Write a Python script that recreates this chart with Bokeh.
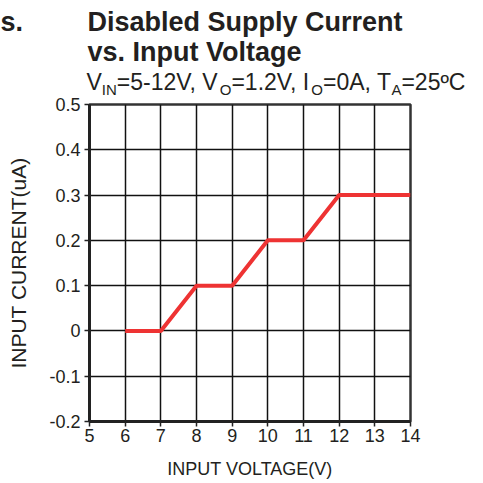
from bokeh.plotting import figure
from bokeh.layouts import column
from bokeh.models import Range1d, FixedTicker
from bokeh.core.properties import value
from bokeh.embed import file_html
from bokeh.resources import INLINE

# ---- data ----
input_voltage = [6, 7, 8, 9, 10, 11, 12, 13, 14]
input_current = [0, 0, 0.1, 0.1, 0.2, 0.2, 0.3, 0.3, 0.3]
x_ticks = [5, 6, 7, 8, 9, 10, 11, 12, 13, 14]
y_ticks = [-0.2, -0.1, 0, 0.1, 0.2, 0.3, 0.4, 0.5]
y_tick_labels = ["-0.2", "-0.1", "0", "0.1", "0.2", "0.3", "0.4", "0.5"]
title_lines = ["Disabled Supply Current", "vs. Input Voltage"]
clipped_prefix = "s."
subtitle_parts = [("V", False), ("IN", True), ("=5-12V, V", False), ("O", True),
                  ("=1.2V, I", False), ("O", True), ("=0A, T", False), ("A", True),
                  ("=25ºC", False)]
x_label = "INPUT VOLTAGE(V)"
y_label = "INPUT CURRENT(uA)"

FONT = "Liberation Sans"
TXT = "#231F20"
W = 483
H1 = 96            # header height
H2 = 387           # plot figure height
X0, X1, Y0, Y1 = 5, 14, -0.2, 0.5
# frame edges in window pixels
FL, FR, FT, FB = 89, 410, 104, 421

# ---------------- header with titles ----------------
hdr = figure(width=W, height=H1, output_backend="svg", toolbar_location=None,
             title=None,
             x_range=Range1d(0, W), y_range=Range1d(H1, 0),
             x_axis_type=None, y_axis_type=None,
             min_border=0, min_border_left=0, min_border_right=0,
             min_border_top=0, min_border_bottom=0)
hdr.outline_line_color = None
hdr.grid.visible = False
hdr.background_fill_color = "white"
hdr.border_fill_color = "white"

title_x = [0, 87, 87]
title_y = [21.5, 21.5, 51.5]
hdr.text(x=title_x, y=title_y, text=[clipped_prefix] + title_lines,
         text_font=value(FONT), text_font_style="bold", text_font_size="27px",
         text_color=TXT, text_baseline="alphabetic", text_align="left")

# Arial / Liberation Sans advance widths (per 1000 em)
AW = {"V": 667, "I": 278, "N": 722, "=": 584, "5": 556, "-": 333, "1": 556, "2": 556,
      ",": 278, " ": 278, "O": 778, ".": 278, "0": 556, "A": 667, "T": 611,
      "º": 365, "C": 722}
MAIN, SUB = 23, 15
cx = 86.0
main_x, main_t, sub_x, sub_t = [], [], [], []
for txt, is_sub in subtitle_parts:
    size = SUB if is_sub else MAIN
    if is_sub:
        sub_x.append(cx); sub_t.append(txt)
    else:
        main_x.append(cx); main_t.append(txt)
    cx += sum(AW.get(ch, 556) for ch in txt) * size / 1000.0
hdr.text(x=main_x, y=[81.5] * len(main_x), text=main_t, text_font=value(FONT),
         text_font_size=f"{MAIN}px", text_color=TXT, text_baseline="alphabetic")
hdr.text(x=sub_x, y=[88.5] * len(sub_x), text=sub_t, text_font=value(FONT),
         text_font_size=f"{SUB}px", text_color=TXT, text_baseline="alphabetic")

# ---------------- main plot ----------------
p = figure(width=W, height=H2, output_backend="svg", toolbar_location=None,
           title=None,
           x_range=Range1d(X0, X1), y_range=Range1d(Y0, Y1),
           min_border_left=FL, min_border_right=W - FR,
           min_border_top=FT - H1, min_border_bottom=H1 + H2 - FB)
p.background_fill_color = "white"
p.border_fill_color = "white"
p.outline_line_color = "#333333"
p.outline_line_width = 2.5

# keep the header's frame independent of the plot's frame
for fig in (hdr, p):
    if "frame_align" in fig.properties():
        fig.frame_align = False

for ax in (p.xaxis[0], p.yaxis[0]):
    ax.axis_line_width = 3
    ax.axis_line_color = "#222222"
    ax.major_tick_line_color = "#222222"
    ax.major_tick_line_width = 1.5
    ax.major_tick_out = 5
    ax.major_tick_in = 0
    ax.minor_tick_line_color = None
    ax.major_label_text_font = FONT
    ax.major_label_text_font_size = "18px"
    ax.major_label_text_color = TXT
    ax.axis_label_text_font = FONT
    ax.axis_label_text_font_style = "normal"
    ax.axis_label_text_color = TXT

p.xaxis.ticker = FixedTicker(ticks=x_ticks)
p.yaxis.ticker = FixedTicker(ticks=y_ticks)
p.yaxis.major_label_overrides = {t: l for t, l in zip(y_ticks, y_tick_labels)}
p.xaxis.major_label_standoff = 2
p.yaxis.major_label_standoff = 4
p.xaxis.axis_label = x_label
p.yaxis.axis_label = y_label
p.xaxis.axis_label_text_font_size = "18px"
p.yaxis.axis_label_text_font_size = "21px"
p.xaxis.axis_label_standoff = 14
p.yaxis.axis_label_standoff = 16

p.xgrid.ticker = FixedTicker(ticks=x_ticks)
p.ygrid.ticker = FixedTicker(ticks=y_ticks)
for g in (p.xgrid[0], p.ygrid[0]):
    g.grid_line_color = "#111111"
    g.grid_line_width = 1.5
    g.grid_line_alpha = 1.0

p.line(input_voltage, input_current, line_color="#EE3333", line_width=4)

layout = column(hdr, p, spacing=0)
open("out.html", "w").write(file_html(layout, INLINE))
